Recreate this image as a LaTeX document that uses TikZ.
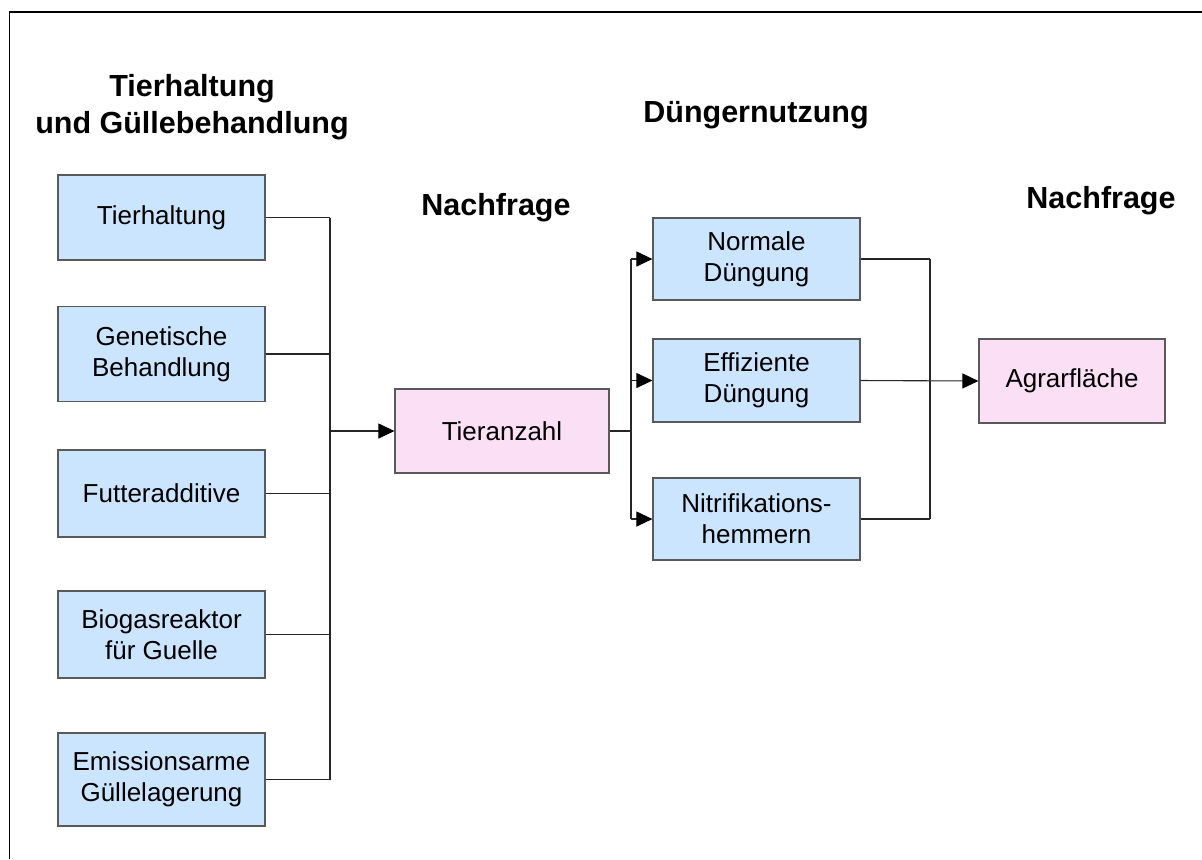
\documentclass[tikz,border=0pt]{standalone}
\usepackage{fontspec}
\setmainfont{Liberation Sans}
\usetikzlibrary{arrows.meta}

\definecolor{boxblau}{RGB}{204,229,255}
\definecolor{boxrosa}{RGB}{250,223,245}

\tikzset{
  kasten/.style={draw=black!65, line width=0.6pt, fill=boxblau, align=center,
    inner sep=2pt, minimum width=103.5pt,
    font=\fontsize{13}{15.5}\selectfont},
  ziel/.style={kasten, fill=boxrosa},
  kopf/.style={font=\bfseries\fontsize{15.25}{18.5}\selectfont, align=center, inner sep=0pt},
  leitung/.style={draw=black!85, line width=0.55pt},
  pfeil/.style={leitung, -{Triangle[length=8pt,width=7.5pt,color=black]}}
}

\begin{document}
\begin{tikzpicture}[x=0.5pt,y=-0.5pt]
\useasboundingbox (0,0) rectangle (1202,859);
% Rahmen
\draw[line width=0.6pt] (1202,12) -- (9.5,12) -- (9.5,859);

% Ueberschriften
\node[kopf] (k1) at (192,107.5) {Tierhaltung\\und Güllebehandlung};
\node[kopf, anchor=base] (k2) at (756,122) {Düngernutzung};
\node[kopf, anchor=base] (k3) at (496,215) {Nachfrage};
\node[kopf, anchor=base] (k4) at (1101,208) {Nachfrage};

% linke Spalte
\node[kasten, minimum height=42.5pt] (tierhaltung) at (161.5,217.5) {Tierhaltung};
\node[kasten, minimum height=47.5pt] (genetik) at (161.5,354) {Genetische\\Behandlung};
\node[kasten, minimum height=43.5pt] (futter) at (161.5,493.5) {Futteradditive};
\node[kasten, minimum height=43.5pt] (biogas) at (161.5,634.5) {Biogasreaktor\\für Guelle};
\node[kasten, minimum height=46.5pt] (lagerung) at (161.5,779.5) {Emissionsarme\\Güllelagerung};

% Mitte
\node[ziel, minimum width=107pt, minimum height=42pt] (tieranzahl) at (502,431) {Tieranzahl};
\node[kasten, minimum height=41pt] (normal) at (756.5,259) {Normale\\Düngung};
\node[kasten, minimum height=41.5pt] (effizient) at (756.5,380.5) {Effiziente\\Düngung};
\node[kasten, minimum height=41pt] (nitri) at (756.5,519) {Nitrifikations-\\hemmern};

% rechts
\node[ziel, minimum width=93pt, minimum height=42pt] (agrar) at (1072,381) {Agrarfläche};

% Verbindungen
\coordinate (bus1) at (330,0);
\coordinate (bus2) at (631,0);
\coordinate (bus3) at (930,0);

\foreach \n in {tierhaltung,genetik,futter,biogas,lagerung}
  \draw[leitung] (\n.east) -- (\n.east -| bus1);
\draw[leitung] (tierhaltung.east -| bus1) -- (lagerung.east -| bus1);
\draw[pfeil] (tieranzahl.west -| bus1) -- (tieranzahl.west);

\draw[leitung] (tieranzahl.east) -- (tieranzahl.east -| bus2);
\draw[leitung] (normal.west -| bus2) -- (nitri.west -| bus2);
\foreach \n in {normal,effizient,nitri}
  \draw[pfeil] (\n.west -| bus2) -- (\n.west);

\foreach \n in {normal,nitri}
  \draw[leitung] (\n.east) -- (\n.east -| bus3);
\draw[leitung] (normal.east -| bus3) -- (nitri.east -| bus3);
\draw[pfeil] (effizient.east) -- (agrar.west);
\end{tikzpicture}
\end{document}
